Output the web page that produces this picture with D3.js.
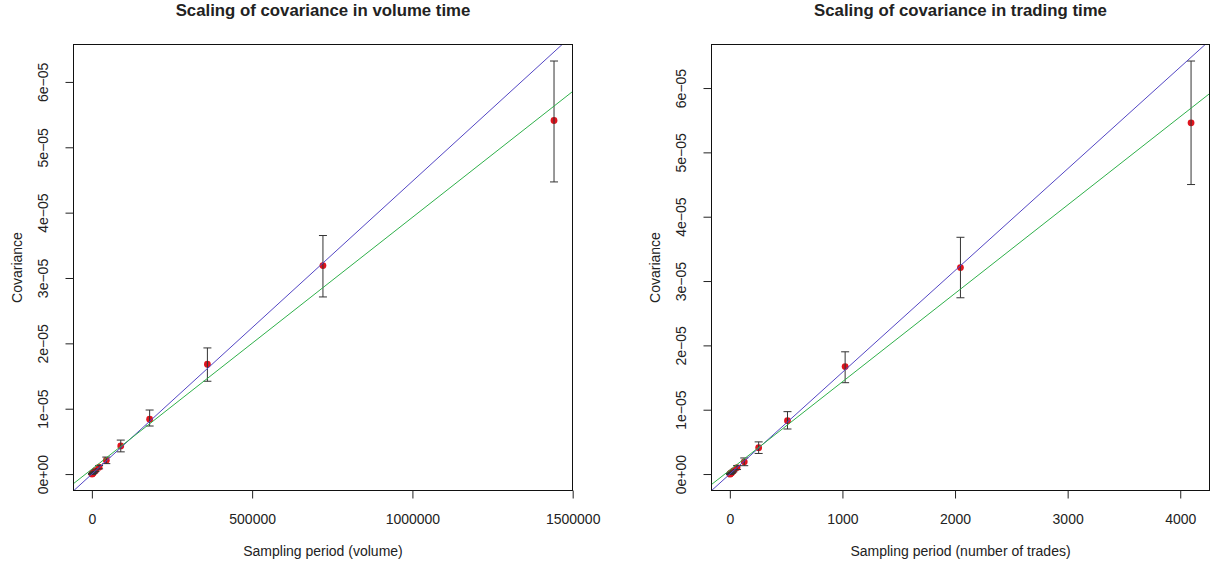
<!DOCTYPE html>
<html><head><meta charset="utf-8">
<script src="https://cdn.jsdelivr.net/npm/d3@7/dist/d3.min.js"></script>
<style>
html,body{margin:0;padding:0;background:#fff;}
svg text{font-family:"Liberation Sans",Arial,Helvetica,sans-serif;fill:#222;}
</style></head>
<body>
<svg id="chart" width="1212" height="567"></svg>
<script>
// ---------- data ----------
const volumePeriods = [352, 704, 1408, 2816, 5632, 11264, 22528, 45056, 90112, 180224, 360448, 720896, 1441792];
const volumeCov     = [0.0017e-5, 0.0033e-5, 0.0066e-5, 0.013e-5, 0.026e-5, 0.052e-5, 0.105e-5, 0.21e-5, 0.43e-5, 0.84e-5, 1.68e-5, 3.19e-5, 5.41e-5];
const volumeLower   = [0.0013e-5, 0.0026e-5, 0.0052e-5, 0.010e-5, 0.020e-5, 0.040e-5, 0.080e-5, 0.16e-5, 0.34e-5, 0.735e-5, 1.42e-5, 2.71e-5, 4.47e-5];
const volumeUpper   = [0.0021e-5, 0.0040e-5, 0.0080e-5, 0.016e-5, 0.032e-5, 0.064e-5, 0.13e-5, 0.26e-5, 0.52e-5, 0.98e-5, 1.93e-5, 3.65e-5, 6.32e-5];
const volumeFitA    = [0, 4.48e-11];        // blue line: intercept, slope
const volumeFitB    = [7.5e-7, 3.853e-11];  // green line

const tradePeriods  = [1, 2, 4, 8, 16, 32, 64, 128, 256, 512, 1024, 2048, 4096];
const tradeCov      = [0.0013e-5, 0.0026e-5, 0.0052e-5, 0.0105e-5, 0.021e-5, 0.048e-5, 0.10e-5, 0.19e-5, 0.41e-5, 0.83e-5, 1.67e-5, 3.21e-5, 5.46e-5];
const tradeLower    = [0.0010e-5, 0.0020e-5, 0.0040e-5, 0.008e-5, 0.016e-5, 0.036e-5, 0.07e-5, 0.13e-5, 0.32e-5, 0.70e-5, 1.42e-5, 2.74e-5, 4.50e-5];
const tradeUpper    = [0.0016e-5, 0.0032e-5, 0.0064e-5, 0.013e-5, 0.026e-5, 0.060e-5, 0.13e-5, 0.25e-5, 0.50e-5, 0.97e-5, 1.90e-5, 3.68e-5, 6.42e-5];
const tradeFitA     = [0, 1.5815e-8];
const tradeFitB     = [6.1e-7, 1.3736e-8];

const yTicks = [0, 1e-5, 2e-5, 3e-5, 4e-5, 5e-5, 6e-5];
const volumeTicks = [0, 500000, 1000000, 1500000];
const tradeTicks = [0, 1000, 2000, 3000, 4000];

const titles = ["Scaling of covariance in volume time", "Scaling of covariance in trading time"];
const xTitles = ["Sampling period (volume)", "Sampling period (number of trades)"];
const yTitle = "Covariance";

// ---------- drawing ----------
const svg = d3.select("#chart");
const BLUE = "#5346c4", GREEN = "#2fb04a", RED = "#e0141e", BAR = "#333";

function fmtSci(v){
  if (v === 0) return "0e+00";
  const e = Math.floor(Math.log10(Math.abs(v)) + 1e-9);
  const m = Math.round(v / Math.pow(10, e));
  const es = (e < 0 ? "\u2212" : "+") + String(Math.abs(e)).padStart(2, "0");
  return m + "e" + es;
}

function rPad(ext){ const r = ext[1]-ext[0]; return [ext[0]-0.04*r, ext[1]+0.04*r]; }

function panel(idx, box, xs, ys, lo, hi, fitA, fitB, xTicks){
  const [x0, x1, y0, y1] = box;
  const g = svg.append("g");
  const xScale = d3.scaleLinear().domain(rPad(d3.extent(xs))).range([x0, x1]);
  const yScale = d3.scaleLinear().domain(rPad([d3.min(lo), d3.max(hi)])).range([y1, y0]);

  const clipId = "clip" + idx;
  svg.append("clipPath").attr("id", clipId).append("rect")
    .attr("x", x0).attr("y", y0).attr("width", x1-x0).attr("height", y1-y0);

  const data = xs.map((x,i)=>({x, y: ys[i], lo: lo[i], hi: hi[i]}));

  // points
  g.append("g").selectAll("circle").data(data).join("circle")
    .attr("cx", d=>xScale(d.x)).attr("cy", d=>yScale(d.y)).attr("r", 3.4)
    .attr("fill", RED);

  // error bars
  const eb = g.append("g").attr("stroke", BAR).attr("stroke-width", 1).attr("fill", "none");
  eb.selectAll("line.v").data(data).join("line").attr("class","v")
    .attr("x1", d=>xScale(d.x)).attr("x2", d=>xScale(d.x))
    .attr("y1", d=>yScale(d.lo)).attr("y2", d=>yScale(d.hi));
  eb.selectAll("line.t").data(data).join("line").attr("class","t")
    .attr("x1", d=>xScale(d.x)-4).attr("x2", d=>xScale(d.x)+4)
    .attr("y1", d=>yScale(d.hi)).attr("y2", d=>yScale(d.hi));
  eb.selectAll("line.b").data(data).join("line").attr("class","b")
    .attr("x1", d=>xScale(d.x)-4).attr("x2", d=>xScale(d.x)+4)
    .attr("y1", d=>yScale(d.lo)).attr("y2", d=>yScale(d.lo));

  // fit lines
  const dom = xScale.domain();
  const lg = g.append("g").attr("clip-path", `url(#${clipId})`);
  [[fitA, BLUE], [fitB, GREEN]].forEach(([f, c])=>{
    lg.append("line")
      .attr("x1", xScale(dom[0])).attr("y1", yScale(f[0] + f[1]*dom[0]))
      .attr("x2", xScale(dom[1])).attr("y2", yScale(f[0] + f[1]*dom[1]))
      .attr("stroke", c).attr("stroke-width", 1);
  });

  // box
  g.append("rect").attr("x", x0).attr("y", y0).attr("width", x1-x0).attr("height", y1-y0)
    .attr("fill", "none").attr("stroke", "#111").attr("stroke-width", 1);

  // x axis
  const xa = g.append("g").attr("transform", `translate(0,${y1})`)
    .call(d3.axisBottom(xScale).tickValues(xTicks).tickFormat(d3.format("d")).tickSize(8).tickPadding(16));
  xa.select(".domain").remove();
  xa.selectAll("line").attr("stroke", "#222");
  xa.selectAll("text").attr("font-size", 14).attr("fill", "#222");

  // y axis
  const ya = g.append("g").attr("transform", `translate(${x0},0)`)
    .call(d3.axisLeft(yScale).tickValues(yTicks).tickFormat(fmtSci).tickSize(8));
  ya.select(".domain").remove();
  ya.selectAll("line").attr("stroke", "#222");
  ya.selectAll("text").attr("font-size", 14).attr("fill", "#222")
    .attr("x", null).attr("dy", "0.35em").attr("text-anchor", "middle")
    .attr("transform", "translate(-30,0) rotate(-90)");

  // titles
  g.append("text").attr("x", (x0+x1)/2).attr("y", 16).attr("text-anchor", "middle")
    .attr("font-weight", "bold").attr("font-size", 16.8).text(titles[idx]);
  g.append("text").attr("x", (x0+x1)/2).attr("y", 556).attr("text-anchor", "middle")
    .attr("font-size", 14).text(xTitles[idx]);
  g.append("text").attr("transform", `translate(${x0-56},${(y0+y1)/2}) rotate(-90)`)
    .attr("dy", "0.35em").attr("text-anchor", "middle").attr("font-size", 14).text(yTitle);
}

panel(0, [73.5, 572.5, 44.5, 490.5], volumePeriods, volumeCov, volumeLower, volumeUpper, volumeFitA, volumeFitB, volumeTicks);
panel(1, [711.5, 1209.5, 44.5, 490.5], tradePeriods, tradeCov, tradeLower, tradeUpper, tradeFitA, tradeFitB, tradeTicks);
</script>
</body></html>
